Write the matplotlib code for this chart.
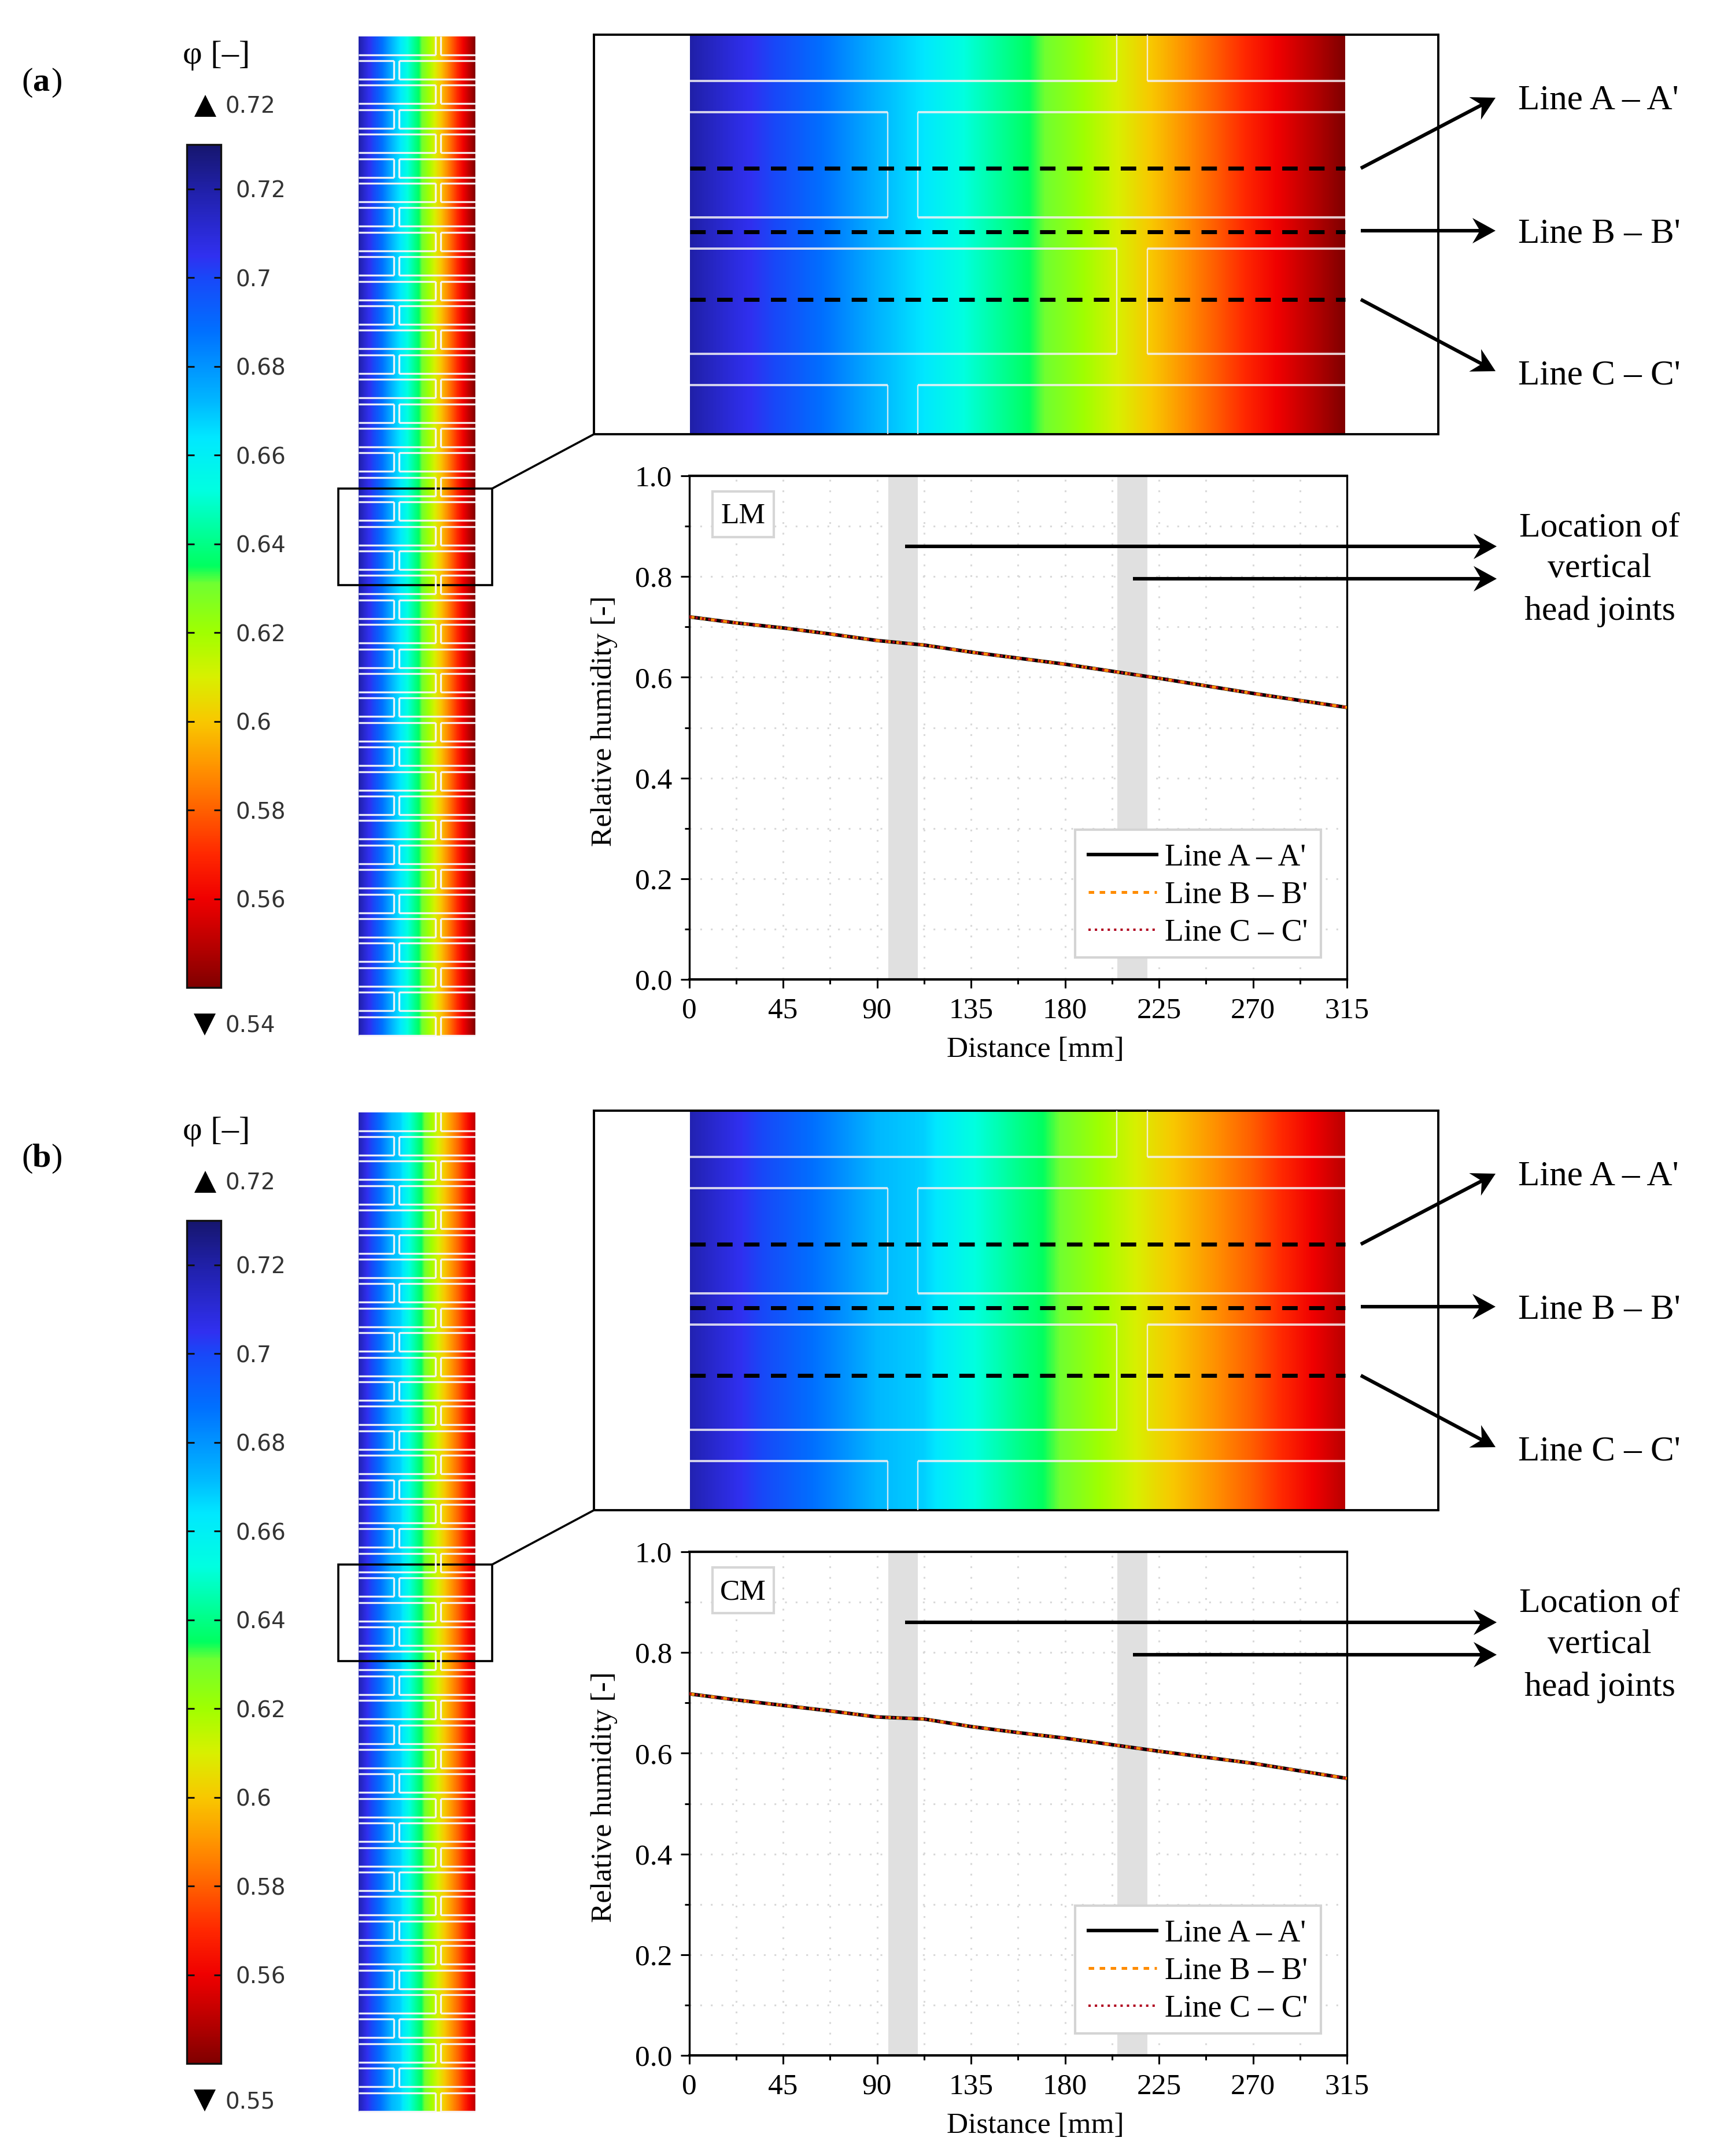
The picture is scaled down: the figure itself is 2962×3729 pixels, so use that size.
import numpy as np
import matplotlib
matplotlib.use("Agg")
import matplotlib.pyplot as plt
from matplotlib.colors import LinearSegmentedColormap, Normalize
from matplotlib.cm import ScalarMappable
from matplotlib.patches import Rectangle, Polygon

plt.rcParams['font.family'] = ['Liberation Serif', 'DejaVu Sans']

W, H = 2962, 3729
DPI = 100

# ---- data -----------------------------------------------------------------
distance = [0, 22.5, 45, 67.5, 90, 112.5, 135, 157.5, 180, 202.5, 225, 247.5, 270, 292.5, 315]
rh_lm = [.720, .708, .698, .686, .673, .664, .650, .638, .626, .612, .598, .583, .568, .554, .540]
rh_cm = [.718, .706, .695, .684, .672, .668, .653, .641, .630, .617, .604, .592, .580, .565, .550]
joint_bands = [(95.4, 109.5), (205.0, 219.5)]
line_names = ["Line A \u2013 A'", "Line B \u2013 B'", "Line C \u2013 C'"]
x_ticks = [0, 45, 90, 135, 180, 225, 270, 315]
y_ticks = [0.0, 0.2, 0.4, 0.6, 0.8, 1.0]
cbar_ticks = [0.72, 0.70, 0.68, 0.66, 0.64, 0.62, 0.60, 0.58, 0.56]
cbar_labels = ['0.72', '0.7', '0.68', '0.66', '0.64', '0.62', '0.6', '0.58', '0.56']
cmap_values = [.54, .548, .56, .57, .58, .589, .60, .61, .62, .631, .635, .652, .664, .672, .688, .70, .705, .72, .73]
cmap_colors = ['#800000', '#b00000', '#f00000', '#ff2800', '#ff6000', '#ff9000', '#f8c800', '#d8f000',
               '#a0ff00', '#70ff30', '#00ff60', '#00ffe0', '#00e8ff', '#00b8ff', '#0070ff', '#1848f8',
               '#3030f0', '#2020a8', '#16166e']

VMIN, VMAX = 0.54, 0.73
cmap = LinearSegmentedColormap.from_list(
    'comsol', [((v - VMIN) / (VMAX - VMIN), c) for v, c in zip(cmap_values, cmap_colors)], N=512)
norm = Normalize(VMIN, VMAX)

fig = plt.figure(figsize=(W / DPI, H / DPI), dpi=DPI, facecolor='white')


def px_axes(x0, y0, x1, y1, **kw):
    return fig.add_axes([x0 / W, 1 - y1 / H, (x1 - x0) / W, (y1 - y0) / H], **kw)


ov = fig.add_axes([0, 0, 1, 1], zorder=10)
ov.set_xlim(0, W)
ov.set_ylim(H, 0)
ov.axis('off')
ov.patch.set_alpha(0)


def field(x0, y0, x1, y1, profile):
    ax = px_axes(x0, y0, x1, y1)
    step = distance[1] - distance[0]
    ax.imshow(np.vstack([profile, profile]), cmap=cmap, norm=norm, aspect='auto',
              interpolation='bilinear', interpolation_stage='data',
              extent=(distance[0] - step / 2, distance[-1] + step / 2, 1, 0))
    ax.set_xlim(distance[0], distance[-1])
    ax.set_ylim(1, 0)
    ax.axis('off')


def bricks(left, right, top, bottom, first, height, period, joint_a, joint_b, lw_h, lw_v, color, alpha):
    y = first
    kind = 0
    while y < bottom:
        j0, j1 = joint_a if kind == 0 else joint_b
        yb = y + height
        for x0, x1 in ((left, j0), (right, j1)):
            if y >= top:
                ov.plot([x0, x1], [y, y], color=color, lw=lw_h, alpha=alpha, solid_capstyle='butt')
            if yb <= bottom:
                ov.plot([x0, x1], [yb, yb], color=color, lw=lw_h, alpha=alpha, solid_capstyle='butt')
            ov.plot([x1, x1], [max(y, top), min(yb, bottom)], color=color, lw=lw_v, alpha=alpha,
                    solid_capstyle='butt')
        y += period
        kind = 1 - kind


def arrow(x0, y0, x1, y1, lw=4.4):
    d = np.array([x1 - x0, y1 - y0], float)
    d /= np.hypot(*d)
    n = np.array([-d[1], d[0]])
    tip = np.array([x1, y1], float)
    notch = tip - 27 * d
    ov.plot([x0, notch[0]], [y0, notch[1]], color='black', lw=lw, solid_capstyle='butt')
    ov.add_patch(Polygon([tip, tip - 40 * d + 22 * n, notch, tip - 40 * d - 22 * n],
                         closed=True, fc='black', ec='none'))


def panel(dy, letter, profile, vlow, name):
    # panel letter, colour bar title
    ov.text(47, 143 + dy, '(', fontsize=42, ha='center', va='center')
    ov.text(71, 143 + dy, letter, fontsize=42, fontweight='bold', ha='center', va='center')
    ov.text(98, 143 + dy, ')', fontsize=42, ha='center', va='center')
    ov.text(374, 96 + dy, '\u03c6 [\u2013]', fontsize=42, ha='center', va='center')

    # colour bar
    cax = px_axes(323, 250 + dy, 382, 1708 + dy)
    cb = fig.colorbar(ScalarMappable(norm=norm, cmap=cmap), cax=cax, ticks=cbar_ticks)
    cb.ax.set_yticklabels(cbar_labels, fontsize=28, family='DejaVu Sans', color='#333333')
    cb.ax.tick_params(which='major', direction='in', length=9, width=2.2, left=True, right=True,
                      color='#101010', pad=18)
    cb.ax.minorticks_off()
    cb.outline.set_linewidth(2.4)
    cb.outline.set_edgecolor('#111111')

    ov.plot([355], [183 + dy], marker='^', ms=27, color='black', mew=0, ls='none')
    ov.text(389, 185 + dy, '0.72', fontsize=28, family='DejaVu Sans', color='#333333', ha='left', va='center')
    ov.plot([354], [1772 + dy], marker='v', ms=27, color='black', mew=0, ls='none')
    ov.text(389, 1775 + dy, vlow, fontsize=28, family='DejaVu Sans', color='#333333', ha='left', va='center')

    # whole wall
    field(620, 63 + dy, 822, 1791 + dy, profile)
    bricks(620, 822, 63 + dy, 1791 + dy, 62.6 + dy, 32, 42.4, (753, 762), (681, 690), 2.4, 2.4, '#f8f6f8', 0.95)
    ov.add_patch(Rectangle((585, 845 + dy), 266, 167, fill=False, ec='black', lw=2.6))
    ov.plot([851, 1027], [845 + dy, 751 + dy], color='black', lw=2.6)

    # enlarged detail
    field(1193, 60 + dy, 2326, 751 + dy, profile)
    bricks(1193, 2326, 60 + dy, 751 + dy, -42 + dy, 182, 236, (1931, 1984), (1535, 1587), 2.8, 1.7, '#f4f2f4', 0.85)
    ov.add_patch(Rectangle((1027, 60 + dy), 1460, 691, fill=False, ec='black', lw=2.8))
    for yl in (291, 401, 518):
        ov.plot([1193, 2326], [yl + dy, yl + dy], color='black', lw=5.0, dashes=(3.85, 2.85))
    arrow(2353, 291 + dy, 2586, 169 + dy)
    arrow(2353, 399 + dy, 2586, 399 + dy)
    arrow(2353, 518 + dy, 2586, 642 + dy)
    for nm, yl in zip(line_names, (174, 405, 650)):
        ov.text(2625, yl + dy, nm, fontsize=44, ha='left', va='center')

    # line chart
    ax = px_axes(1191.5, 823 + dy, 2329, 1694 + dy)
    for lo, hi in joint_bands:
        ax.axvspan(lo, hi, color='#e0e0e0', lw=0, zorder=1)
    ax.plot(distance, profile, color='black', lw=4.4, label=line_names[0], zorder=3)
    ax.plot(distance, profile, color='#ff8c00', lw=3.6, dashes=(1.9, 1.9), label=line_names[1], zorder=4)
    ax.plot(distance, profile, color='#b0001e', lw=2.9, dashes=(1, 1.75), label=line_names[2], zorder=5)
    ax.set_xlim(0, 315)
    ax.set_ylim(0, 1)
    ax.set_xticks(x_ticks)
    ax.set_xticks([v + 22.5 for v in x_ticks[:-1]], minor=True)
    ax.set_yticks(y_ticks)
    ax.set_yticks([v + 0.1 for v in y_ticks[:-1]], minor=True)
    ax.set_yticklabels(['%.1f' % v for v in y_ticks])
    ax.tick_params(which='major', length=11, width=2.2, labelsize=37, pad=10)
    ax.tick_params(axis='x', which='major', pad=11)
    ax.tick_params(which='minor', length=6, width=2.2)
    ax.set_axisbelow(True)
    ax.grid(True, which='both', color='#d8d8d8', lw=2.2, linestyle=(0, (1, 5)))
    for s in ax.spines.values():
        s.set_linewidth(2.4)
    ax.spines['top'].set_linewidth(3.0)
    ax.spines['bottom'].set_linewidth(3.0)
    ax.set_xlabel('Distance [mm]', fontsize=37, va='center')
    ax.xaxis.set_label_coords((1790 - 1191.5) / 1137.5, (1694 - 1816) / 871)
    ax.set_ylabel('Relative humidity [-]', fontsize=37, va='center')
    ax.yaxis.set_label_coords((1045 - 1191.5) / 1137.5, (1694 - 1247) / 871)

    # legend frame drawn apart so that the rows can sit as in the reference
    ax.add_patch(Rectangle(((1859 - 1191.5) / 1137.5, (1694 - 1656) / 871), 425 / 1137.5, 221 / 871,
                           transform=ax.transAxes, fc='white', ec='#d4d4d4', lw=3.0, zorder=6))
    leg = ax.legend(loc='lower left', bbox_to_anchor=((1859 - 1191.5) / 1137.5, (1694 - 1661) / 871),
                    borderaxespad=0, fontsize=38.7, frameon=False, handlelength=2.2,
                    handletextpad=0.26, borderpad=0.42, labelspacing=0.27)
    leg.set_zorder(7)

    # sample label
    ov.add_patch(Rectangle((1232, 850 + dy), 106, 79, fc='white', ec='#d6d6d6', lw=3.0))
    ov.text(1285, 893 + dy, name, fontsize=37, ha='center', va='center')

    # joint location call-out
    arrow(1565, 945 + dy, 2588, 945 + dy)
    arrow(1959, 1001 + dy, 2588, 1001 + dy)
    for txt, yl in zip(('Location of', 'vertical', 'head joints'), (913, 984, 1058)):
        ov.text(2766, yl + dy, txt, fontsize=43, ha='center', va='center')


panel(0, 'a', rh_lm, '0.54', 'LM')
panel(1861, 'b', rh_cm, '0.55', 'CM')

fig.savefig('out.png', dpi=DPI)
